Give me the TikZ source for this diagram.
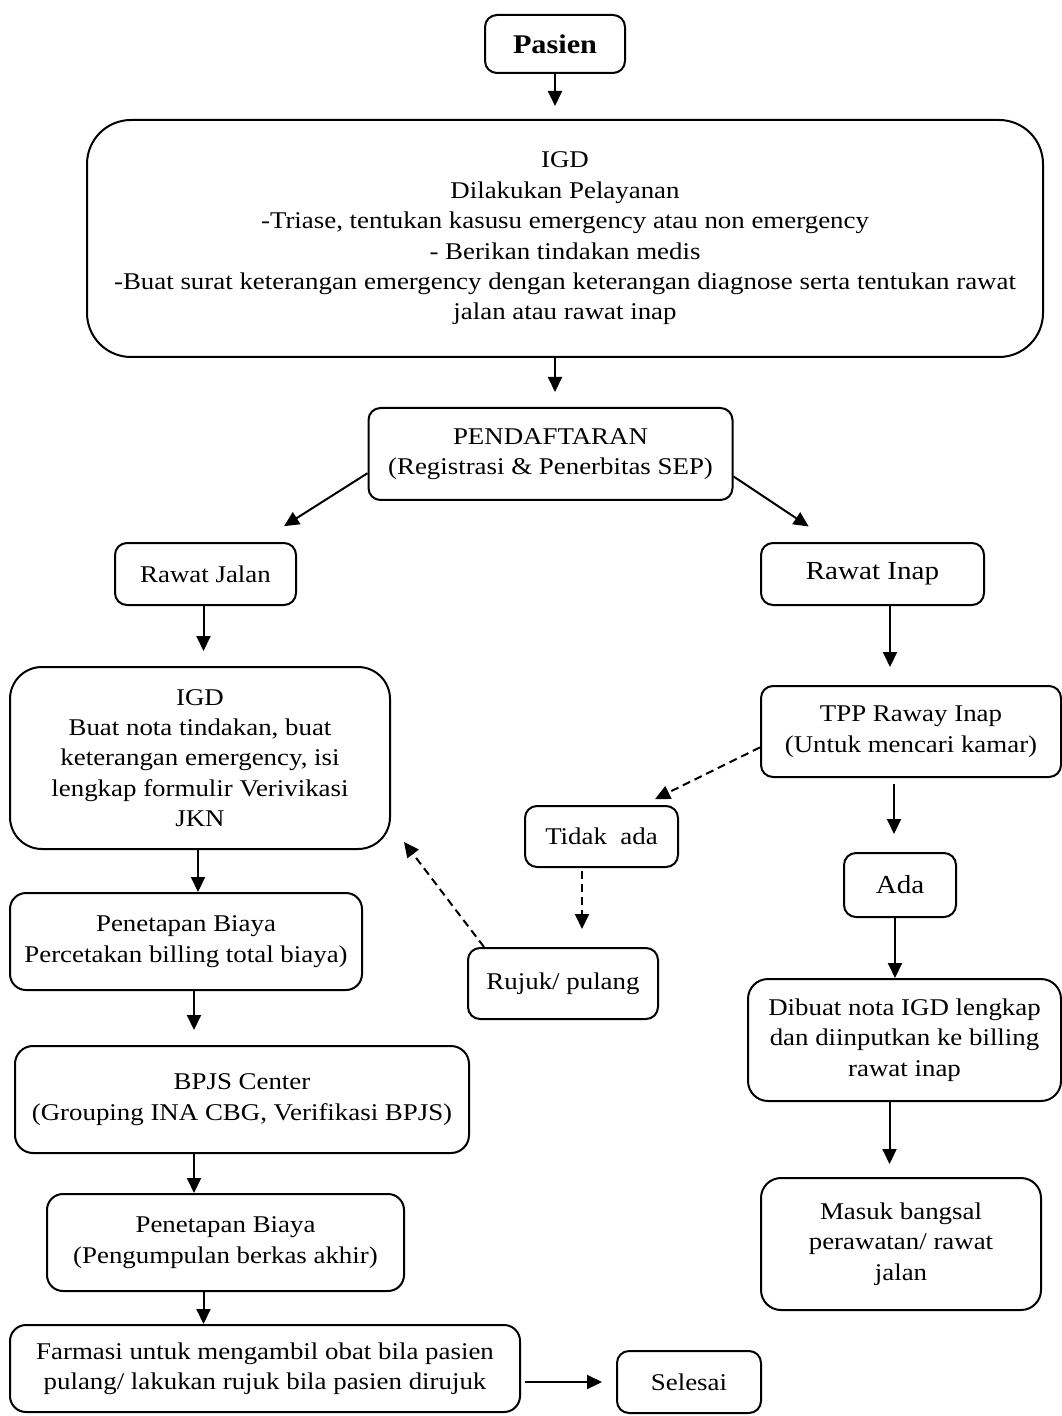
\documentclass[tikz,border=0pt]{standalone}
\usepackage{fontspec}
\setmainfont{Liberation Serif}[FakeStretch=1.12]
\usetikzlibrary{arrows.meta,positioning}

\begin{document}
\begin{tikzpicture}[x=0.5pt,y=-0.5pt,
  box/.style={draw,line width=1pt,rounded corners=6pt,align=center,
              inner sep=1pt,font=\fontsize{12}{15.2}\selectfont},
  tr/.style={-{Triangle[length=7.5pt,width=7pt]},line width=1pt},
  dtr/.style={tr,dash pattern=on 4pt off 2.5pt}
]
\useasboundingbox (0,0) rectangle (1061,1416);

\node[box,minimum width=70pt,minimum height=29pt,
      font=\bfseries\fontsize{13.5}{15}\selectfont] (pasien) at (555,44) {Pasien};
\node[box,rounded corners=22pt,minimum width=478pt,minimum height=118.5pt] (igd) at (565,238.5)
  {IGD\\Dilakukan Pelayanan\\-Triase, tentukan kasusu emergency atau non emergency\\
   - Berikan tindakan medis\\
   -Buat surat keterangan emergency dengan keterangan diagnose serta tentukan rawat\\
   jalan atau rawat inap};
\node[box,minimum width=182pt,minimum height=46pt] (daftar) at (550.5,454)
  {PENDAFTARAN\\(Registrasi \& Penerbitas SEP)};
\node[box,minimum width=90.5pt,minimum height=31pt] (jalan) at (205.5,574) {Rawat Jalan};
\node[box,minimum width=111.5pt,minimum height=31pt,
      font=\fontsize{13}{15}\selectfont] (inap) at (872.5,574) {Rawat Inap};

% cabang rawat jalan
\node[box,rounded corners=16pt,minimum width=190pt,minimum height=91pt] (igdj) at (200,758)
  {IGD\\Buat nota tindakan, buat\\keterangan emergency, isi\\lengkap formulir Verivikasi\\JKN};
\node[box,rounded corners=8pt,minimum width=176pt,minimum height=48.5pt] (biaya1) at (186,941.5)
  {Penetapan Biaya\\Percetakan billing total biaya)};
\node[box,rounded corners=9pt,minimum width=227pt,minimum height=53.5pt] (bpjs) at (242,1099.5)
  {BPJS Center\\(Grouping INA CBG, Verifikasi BPJS)};
\node[box,rounded corners=8pt,minimum width=178.5pt,minimum height=48.5pt] (biaya2) at (225.5,1242.5)
  {Penetapan Biaya\\(Pengumpulan berkas akhir)};
\node[box,rounded corners=8pt,minimum width=255pt,minimum height=43.5pt] (farmasi) at (265,1368.5)
  {Farmasi untuk mengambil obat bila pasien\\pulang/ lakukan rujuk bila pasien dirujuk};
\node[box,minimum width=72pt,minimum height=31pt] (selesai) at (689,1382) {Selesai};

% cabang rawat inap
\node[box,minimum width=150pt,minimum height=45.5pt] (tpp) at (911,731.5)
  {TPP Raway Inap\\(Untuk mencari kamar)};
\node[box,minimum width=76.5pt,minimum height=30.5pt] (tidak) at (601.5,836.5) {Tidak\ \ ada};
\node[box,minimum width=95pt,minimum height=35.5pt] (rujuk) at (563,983.5) {Rujuk/ pulang};
\node[box,minimum width=56pt,minimum height=32pt,
      font=\fontsize{13}{15}\selectfont] (ada) at (900,885) {Ada};
\node[box,rounded corners=10pt,minimum width=156.5pt,minimum height=61pt] (dibuat) at (904.5,1040)
  {Dibuat nota IGD lengkap\\dan diinputkan ke billing\\rawat inap};
\node[box,rounded corners=10pt,minimum width=140pt,minimum height=66pt] (masuk) at (901,1244)
  {Masuk bangsal\\perawatan/ rawat\\jalan};

\draw[tr,shorten >=6.5pt] (pasien.south) -- (pasien.south |- igd.north);
\draw[tr,shorten >=7.5pt] ([xshift=-5pt]igd.south) -- ([xshift=-5pt]igd.south |- daftar.north);
\draw[tr,shorten >=14.8pt] (daftar.186.6) -- ([xshift=26.75pt]jalan.north);
\draw[tr,shorten >=14pt] (daftar.353.4) -- ([xshift=-20.25pt]inap.north);

\draw[tr,shorten >=7.5pt] ([xshift=-1pt]jalan.south) -- ([xshift=-1pt]jalan.south |- igdj.north);
\draw[tr] ([xshift=-1pt]igdj.south) -- ([xshift=-1pt]igdj.south |- biaya1.north);
\draw[tr,shorten >=7.5pt] ([xshift=4pt]biaya1.south) -- ([xshift=4pt]biaya1.south |- bpjs.north);
\draw[tr] ([xshift=-24pt]bpjs.south) -- ([xshift=-24pt]bpjs.south |- biaya2.north);
\draw[tr] ([xshift=-11pt]biaya2.south) -- ([xshift=-11pt]biaya2.south |- farmasi.north);
\draw[tr,shorten <=2pt,shorten >=7pt] (farmasi.east |- selesai.west) -- (selesai.west);

\draw[tr,shorten >=9pt] ([xshift=8.75pt]inap.south) -- ([xshift=8.75pt]inap.south |- tpp.north);
\draw[dtr,shorten >=6.7pt] (tpp.186.1) -- ([xshift=20.75pt]tidak.north);
\draw[tr,shorten <=3pt,shorten >=9pt] ([xshift=-3pt]ada.north |- tpp.south) -- ([xshift=-3pt]ada.north);
\draw[dtr,shorten <=1.5pt,shorten >=9pt] ([xshift=-9.75pt]tidak.south) -- ([xshift=-9.75pt]tidak.south |- rujuk.north);
\draw[dtr,shorten >=10.7pt] ([xshift=8.5pt]rujuk.north west) -- ([yshift=-33.5pt]igdj.east);
\draw[tr] ([xshift=-2.5pt]ada.south) -- ([xshift=-2.5pt]ada.south |- dibuat.north);
\draw[tr,shorten >=6.5pt] ([xshift=-7.5pt]dibuat.south) -- ([xshift=-7.5pt]dibuat.south |- masuk.north);
\end{tikzpicture}
\end{document}
